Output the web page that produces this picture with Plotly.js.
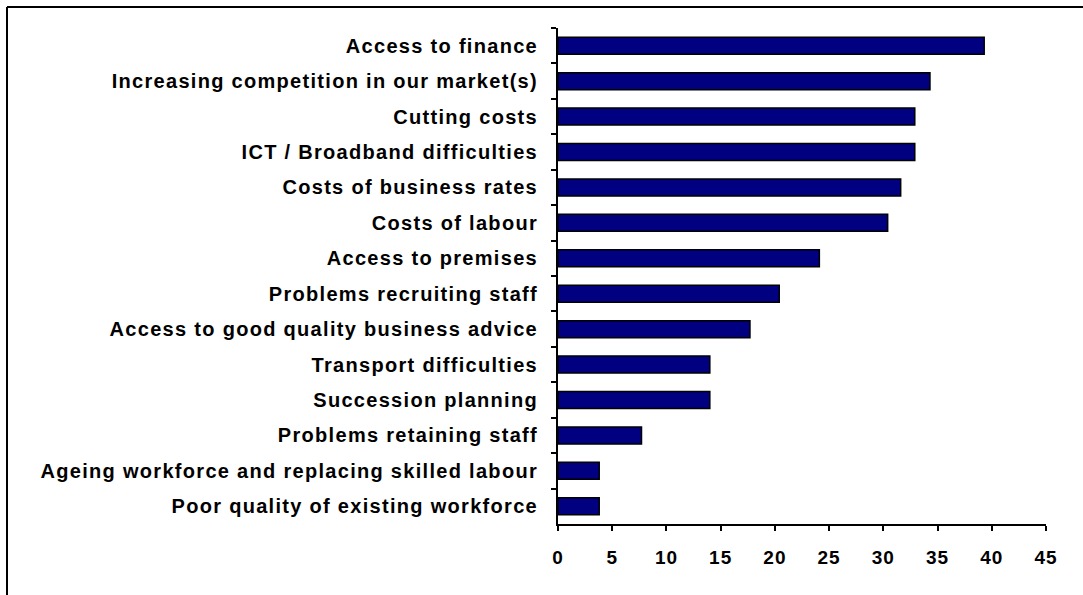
<!DOCTYPE html>
<html>
<head>
<meta charset="utf-8">
<script src="https://cdn.plot.ly/plotly-3.0.1.min.js"></script>
<style>
  html, body { margin: 0; padding: 0; background: #fff; }
  #chart { width: 1083px; height: 595px; }
  #chart .ytick text { letter-spacing: 1.3px; }
  #chart .xtick text { letter-spacing: 1px; }
</style>
</head>
<body>
<div id="chart"></div>
<script>
// Issues reported by businesses (%)
const categories = [
  "Access to finance",
  "Increasing competition in our market(s)",
  "Cutting costs",
  "ICT / Broadband difficulties",
  "Costs of business rates",
  "Costs of labour",
  "Access to premises",
  "Problems recruiting staff",
  "Access to good quality business advice",
  "Transport difficulties",
  "Succession planning",
  "Problems retaining staff",
  "Ageing workforce and replacing skilled labour",
  "Poor quality of existing workforce"
];
const values = [39.3, 34.3, 32.9, 32.9, 31.6, 30.4, 24.1, 20.4, 17.7, 14.0, 14.0, 7.7, 3.8, 3.8];
const xTicks = [0, 5, 10, 15, 20, 25, 30, 35, 40, 45];

const W = 1083, H = 595;
const M = { l: 558, r: 37, t: 28, b: 71 };
const pw = W - M.l - M.r, ph = H - M.t - M.b;
const px = v => (v - M.l) / pw;        // pixel x -> paper x
const py = v => (H - M.b - v) / ph;    // pixel y -> paper y

const fontFamily = "Liberation Sans, Arial, sans-serif";

const trace = {
  type: "bar",
  orientation: "h",
  x: values,
  y: categories,
  marker: { color: "#000080", line: { color: "#000", width: 1.5 } },
  hoverinfo: "x+y"
};

const layout = {
  width: W, height: H,
  margin: M,
  paper_bgcolor: "#fff",
  plot_bgcolor: "#fff",
  showlegend: false,
  bargap: 0.52,
  xaxis: {
    range: [0, 45],
    tickvals: xTicks,
    ticktext: xTicks.map(String),
    showgrid: false, zeroline: false,
    showline: true, linecolor: "#000", linewidth: 2,
    ticks: "outside", ticklen: 5, tickwidth: 2, tickcolor: "#000",
    ticklabelstandoff: 10,
    tickfont: { family: fontFamily, size: 19, color: "#000", weight: 700 },
    fixedrange: true
  },
  yaxis: {
    type: "category",
    autorange: "reversed",
    showgrid: false, zeroline: false,
    showline: true, linecolor: "#000", linewidth: 2,
    ticks: "outside", ticklen: 5, tickwidth: 2, tickcolor: "#000",
    tickson: "boundaries",
    ticklabelstandoff: 14,
    tickfont: { family: fontFamily, size: 20, color: "#000", weight: 700 },
    fixedrange: true
  },
  shapes: [
    { type: "line", xref: "paper", yref: "paper", x0: px(7), x1: px(7), y0: py(7), y1: py(620), line: { color: "#000", width: 2 } },
    { type: "line", xref: "paper", yref: "paper", x0: px(7), x1: px(1100), y0: py(7), y1: py(7), line: { color: "#000", width: 2 } }
  ]
};

Plotly.newPlot("chart", [trace], layout, { displayModeBar: false, staticPlot: true });
</script>
</body>
</html>
